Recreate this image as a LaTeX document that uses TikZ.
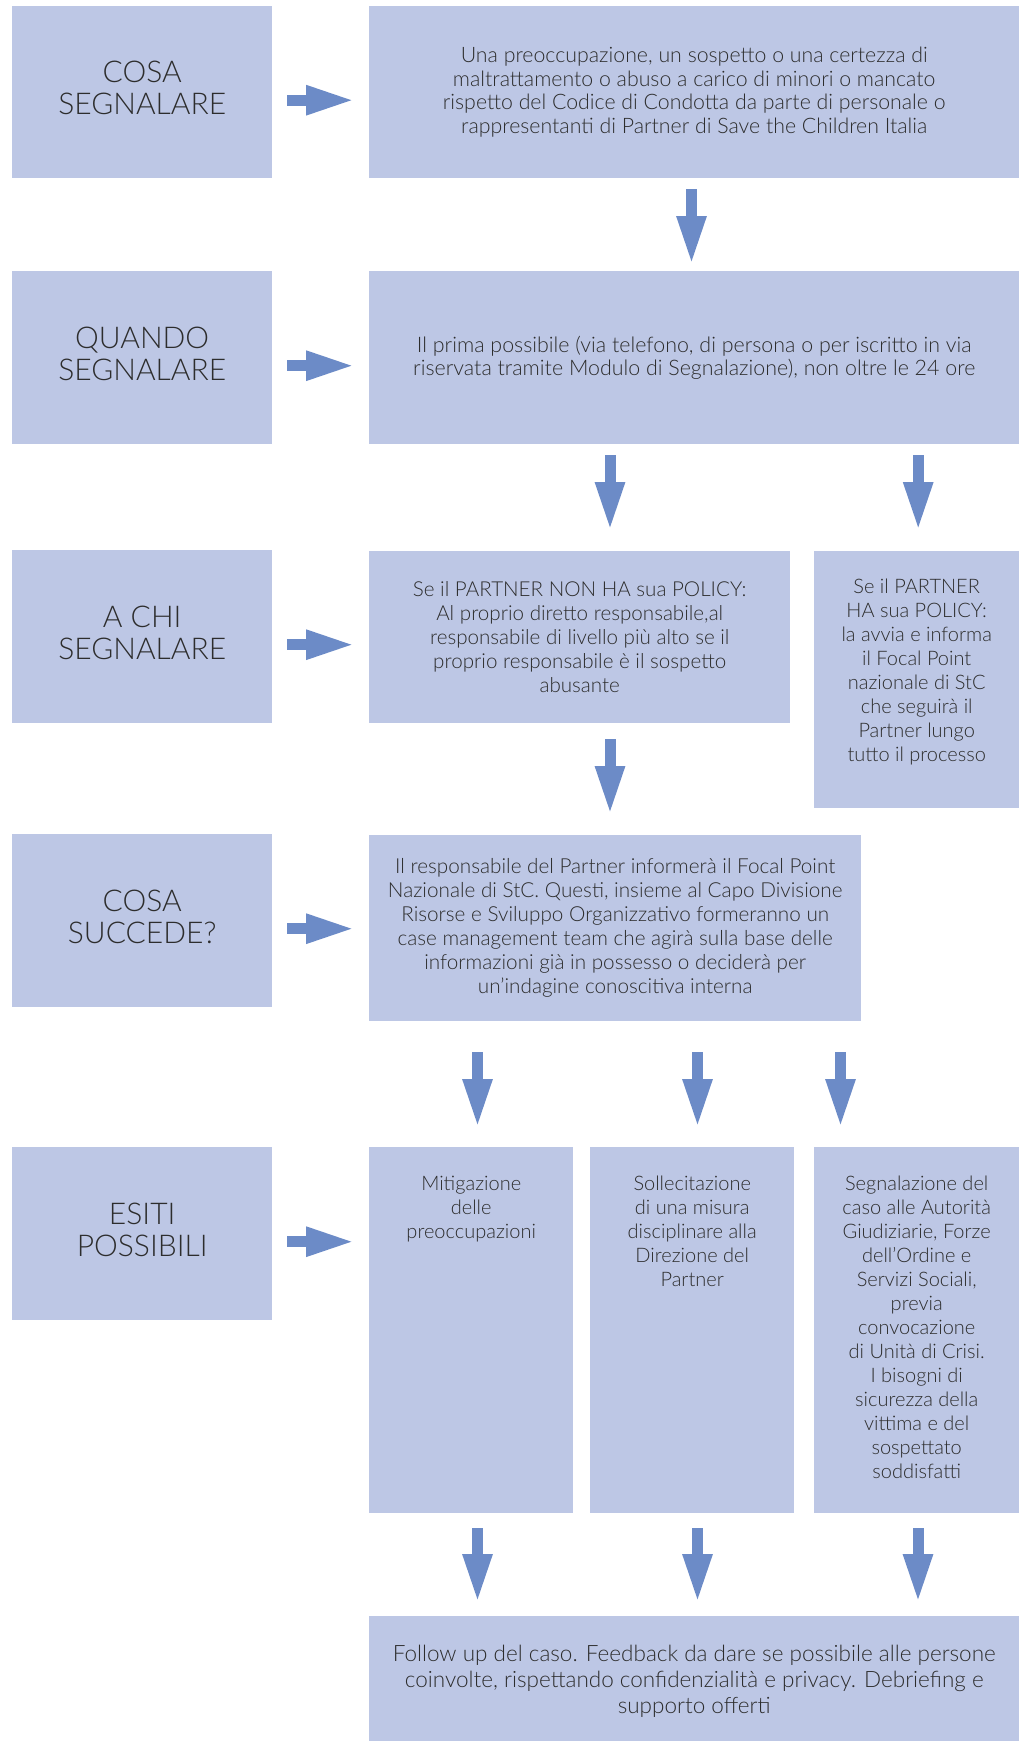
\documentclass[tikz,border=0pt]{standalone}
\usepackage{fontspec}
\IfFontExistsTF{Lato Light}{\setmainfont{Lato Light}}{\setmainfont{Lato}}
\usetikzlibrary{arrows.meta,calc}
\definecolor{boxblue}{RGB}{189,199,229}
\definecolor{arrblue}{RGB}{108,139,199}
\definecolor{txtgray}{RGB}{45,45,45}
\begin{document}
\begin{tikzpicture}[x=1pt,y=-1pt,
  box/.style={fill=boxblue, draw=none, inner sep=0pt, anchor=north west},
  headtxt/.style={font=\fontsize{30}{32}\selectfont, text=txtgray, align=center, inner sep=0pt},
  bodytxt/.style={font=\fontsize{20}{24}\selectfont, text=txtgray, align=center, inner sep=0pt},
  bigarrow/.style={draw=arrblue, line width=11pt, -{Triangle[length=49pt,width=27pt]}},
]
\useasboundingbox (0,0) rectangle (1024,1741);

% left column
\node[box, minimum width=260pt, minimum height=172pt] (l1) at (12,6) {};
\node[box, minimum width=260pt, minimum height=173pt] (l2) at (12,271) {};
\node[box, minimum width=260pt, minimum height=173pt] (l3) at (12,550) {};
\node[box, minimum width=260pt, minimum height=173pt] (l4) at (12,834) {};
\node[box, minimum width=260pt, minimum height=173pt] (l5) at (12,1147) {};
\node[headtxt] (l1t) at ($(l1.center)+(0,-4)$) {COSA\\SEGNALARE};
\node[headtxt] (l2t) at ($(l2.center)+(0,-4)$) {QUANDO\\SEGNALARE};
\node[headtxt] (l3t) at ($(l3.center)+(0,-4)$) {A CHI\\SEGNALARE};
\node[headtxt] (l4t) at ($(l4.center)+(0,-4)$) {COSA\\SUCCEDE?};
\node[headtxt] (l5t) at ($(l5.center)+(0,-4)$) {ESITI\\POSSIBILI};

% right column
\node[box, minimum width=650pt, minimum height=172pt] (a) at (369,6) {};
\node[box, minimum width=650pt, minimum height=173pt] (b) at (369,271) {};
\node[box, minimum width=421pt, minimum height=172pt] (c) at (369,551) {};
\node[box, minimum width=205pt, minimum height=257pt] (d) at (814,551) {};
\node[box, minimum width=492pt, minimum height=186pt] (e) at (369,835) {};
\node[box, minimum width=204pt, minimum height=366pt] (f1) at (369,1147) {};
\node[box, minimum width=204pt, minimum height=366pt] (f2) at (590,1147) {};
\node[box, minimum width=205pt, minimum height=366pt] (f3) at (814,1147) {};
\node[box, minimum width=650pt, minimum height=125pt] (g) at (369,1616) {};

\node[bodytxt, font=\fontsize{21.3}{23.5}\selectfont] (at) at (a.center) {Una preoccupazione, un sospetto o una certezza di\\maltrattamento o abuso a carico di minori o mancato\\rispetto del Codice di Condotta da parte di personale o\\rappresentanti di Partner di Save the Children Italia};
\node[bodytxt, font=\fontsize{21.4}{23.5}\selectfont] (bt) at (b.center) {Il prima possibile (via telefono, di persona o per iscritto in via\\riservata tramite Modulo di Segnalazione), non oltre le 24 ore};
\node[bodytxt, font=\fontsize{20.6}{24}\selectfont] (ct) at (c.center) {Se il PARTNER NON HA sua POLICY:\\Al proprio diretto responsabile,al\\responsabile di livello più alto se il\\proprio responsabile è il sospetto\\abusante};
\node[bodytxt] (dt) at ($(d.center)+(0,-8)$) {Se il PARTNER\\HA sua POLICY:\\la avvia e informa\\il Focal Point\\nazionale di StC\\che seguirà il\\Partner lungo\\tutto il processo};
\node[bodytxt, font=\fontsize{20.7}{24}\selectfont] (et) at (e.center) {Il responsabile del Partner informerà il Focal Point\\Nazionale di StC. Questi, insieme al Capo Divisione\\Risorse e Sviluppo Organizzativo formeranno un\\case management team che agirà sulla base delle\\informazioni già in possesso o deciderà per\\un’indagine conoscitiva interna};
\node[bodytxt, anchor=north] (f1t) at ($(f1.north)+(0,29)$) {Mitigazione\\delle\\preoccupazioni};
\node[bodytxt, anchor=north] (f2t) at ($(f2.north)+(0,29)$) {Sollecitazione\\di una misura\\disciplinare alla\\Direzione del\\Partner};
\node[bodytxt, anchor=north] (f3t) at ($(f3.north)+(0,29)$) {Segnalazione del\\caso alle Autorità\\Giudiziarie, Forze\\dell’Ordine e\\Servizi Sociali,\\previa\\convocazione\\di Unità di Crisi.\\I bisogni di\\sicurezza della\\vittima e del\\sospettato\\soddisfatti};
\node[bodytxt, font=\fontsize{22.5}{26}\selectfont] (gt) at ($(g.center)+(0,3)$) {Follow up del caso. Feedback da dare se possibile alle persone\\coinvolte, rispettando confidenzialità e privacy. Debriefing e\\supporto offerti};

% horizontal arrows
\foreach \L/\R in {l1/a, l2/b, l3/c, l4/e, l5/f1}{
  \draw[bigarrow, shorten <=15pt, shorten >=14pt] ($(\L.east)+(0,8)$) -- ($(\L.east -| \R.west)+(0,8)$);
}

% vertical arrows
\draw[bigarrow, shorten <=11pt, shorten >=6pt] ($(a.south west)+(322.5,0)$) -- ($(b.north west)+(322.5,0)$);
\draw[bigarrow, shorten <=11pt, shorten >=20pt] ($(b.south west)+(241,0)$) -- ($(c.north west)+(241,0)$);
\draw[bigarrow, shorten <=11pt, shorten >=20pt] ($(b.south -| d.north)+(1.5,0)$) -- ($(d.north)+(1.5,0)$);
\draw[bigarrow, shorten <=16pt, shorten >=20pt] ($(c.south west)+(241,0)$) -- ($(e.north west)+(241,0)$);
\draw[bigarrow, shorten <=31pt, shorten >=19pt] ($(e.south west)+(108.5,0)$) -- ($(f1.north west)+(108.5,0)$);
\draw[bigarrow, shorten <=31pt, shorten >=19pt] ($(e.south west)+(328.5,0)$) -- ($(f2.north west)+(107.5,0)$);
\draw[bigarrow, shorten <=31pt, shorten >=19pt] ($(e.south west)+(471.5,0)$) -- ($(f3.north west)+(26.5,0)$);
\draw[bigarrow, shorten <=15pt, shorten >=13pt] ($(f1.south west)+(108.5,0)$) -- ($(g.north west)+(108.5,0)$);
\draw[bigarrow, shorten <=15pt, shorten >=13pt] ($(f2.south west)+(107.5,0)$) -- ($(g.north west)+(328.5,0)$);
\draw[bigarrow, shorten <=15pt, shorten >=13pt] ($(f3.south west)+(104,0)$) -- ($(g.north west)+(549,0)$);
\end{tikzpicture}
\end{document}
